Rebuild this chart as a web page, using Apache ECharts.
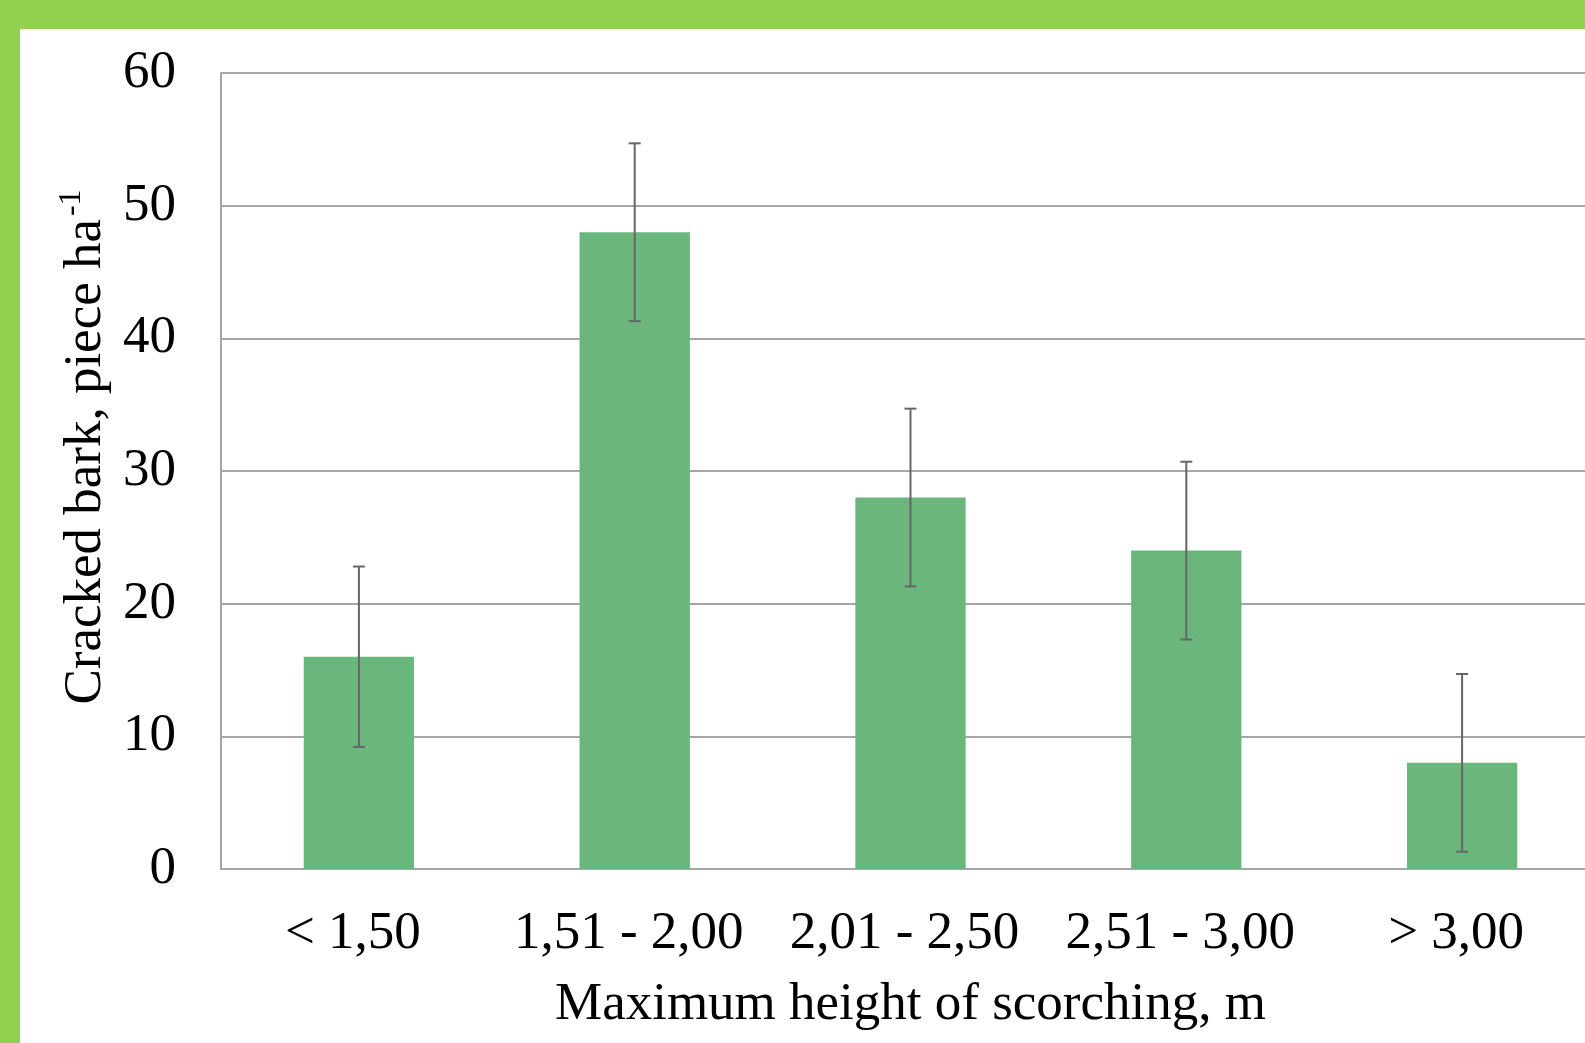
<!DOCTYPE html>
<html lang="en">
<head>
    <meta charset="UTF-8">
    <title>Cracked bark vs scorching height</title>
    <script src="https://cdn.jsdelivr.net/npm/echarts@6.0.0/dist/echarts.min.js"></script>
    <style>
        body, html {
            margin: 0;
            padding: 0;
            width: 100%;
            height: 100%;
            overflow: hidden;
            background: #fff;
        }
        #chart {
            width: 1585px;
            height: 1043px;
        }
    </style>
</head>
<body>
    <div id="chart"></div>
    <script>
        // data
        var categories = ['< 1,50', '1,51 - 2,00', '2,01 - 2,50', '2,51 - 3,00', '> 3,00'];
        var barValues = [16, 48, 28, 24, 8];
        var errLow = [9.2, 41.3, 21.3, 17.3, 1.3];
        var errHigh = [22.8, 54.7, 34.7, 30.7, 14.7];
        var yTicks = { min: 0, max: 60, interval: 10 };

        var font = 'Liberation Serif, Times New Roman, serif';
        var gridGray = '#a6a6a6';

        var chart = echarts.init(document.getElementById('chart'));

        var option = {
            backgroundColor: '#fff',
            animation: false,
            grid: { left: 221, top: 73, right: -15, bottom: 174, outerBoundsMode: 'none' },
            // green frame on top and left edge
            graphic: [
                { type: 'rect', z: 100, shape: { x: 0, y: 0, width: 1585, height: 29 }, style: { fill: '#92d050' } },
                { type: 'rect', z: 100, shape: { x: 0, y: 0, width: 20, height: 1043 }, style: { fill: '#92d050' } }
            ],
            xAxis: {
                type: 'category',
                data: categories,
                axisTick: { show: false },
                axisLine: { lineStyle: { color: gridGray, width: 2 } },
                axisLabel: { color: '#000', fontFamily: font, fontSize: 53, margin: 39, interval: 0, padding: [0, 12, 0, 0] },
                name: 'Maximum height of scorching, m',
                nameLocation: 'middle',
                nameGap: 110,
                nameTextStyle: { color: '#000', fontFamily: font, fontSize: 53 }
            },
            yAxis: {
                type: 'value',
                min: yTicks.min,
                max: yTicks.max,
                interval: yTicks.interval,
                axisLine: { show: true, lineStyle: { color: gridGray, width: 2 } },
                axisTick: { show: false },
                splitLine: { lineStyle: { color: gridGray, width: 2 } },
                axisLabel: { color: '#000', fontFamily: font, fontSize: 53, margin: 45 },
                name: '{a|Cracked bark, piece ha}{s|-1}',
                nameLocation: 'middle',
                nameRotate: 90,
                nameGap: 103,
                nameTextStyle: {
                    padding: [0, 0, 0, 48],
                    rich: {
                        a: { color: '#000', fontFamily: font, fontSize: 53, lineHeight: 60 },
                        s: { color: '#000', fontFamily: font, fontSize: 32, verticalAlign: 'top', lineHeight: 60, padding: [0, 0, 0, 3] }
                    }
                }
            },
            series: [
                {
                    type: 'bar',
                    data: barValues,
                    barWidth: '40%',
                    itemStyle: { color: '#6ab67c' }
                },
                {
                    type: 'custom',
                    z: 10,
                    encode: { x: 0, y: [1, 2] },
                    data: categories.map(function (c, i) { return [i, errLow[i], errHigh[i]]; }),
                    renderItem: function (params, api) {
                        var lo = api.coord([api.value(0), api.value(1)]);
                        var hi = api.coord([api.value(0), api.value(2)]);
                        var cap = 6;
                        var st = { stroke: '#666', lineWidth: 2 };
                        return {
                            type: 'group',
                            children: [
                                { type: 'line', shape: { x1: lo[0], y1: lo[1], x2: hi[0], y2: hi[1] }, style: st },
                                { type: 'line', shape: { x1: hi[0] - cap, y1: hi[1], x2: hi[0] + cap, y2: hi[1] }, style: st },
                                { type: 'line', shape: { x1: lo[0] - cap, y1: lo[1], x2: lo[0] + cap, y2: lo[1] }, style: st }
                            ]
                        };
                    }
                }
            ]
        };

        chart.setOption(option);
    </script>
</body>
</html>
